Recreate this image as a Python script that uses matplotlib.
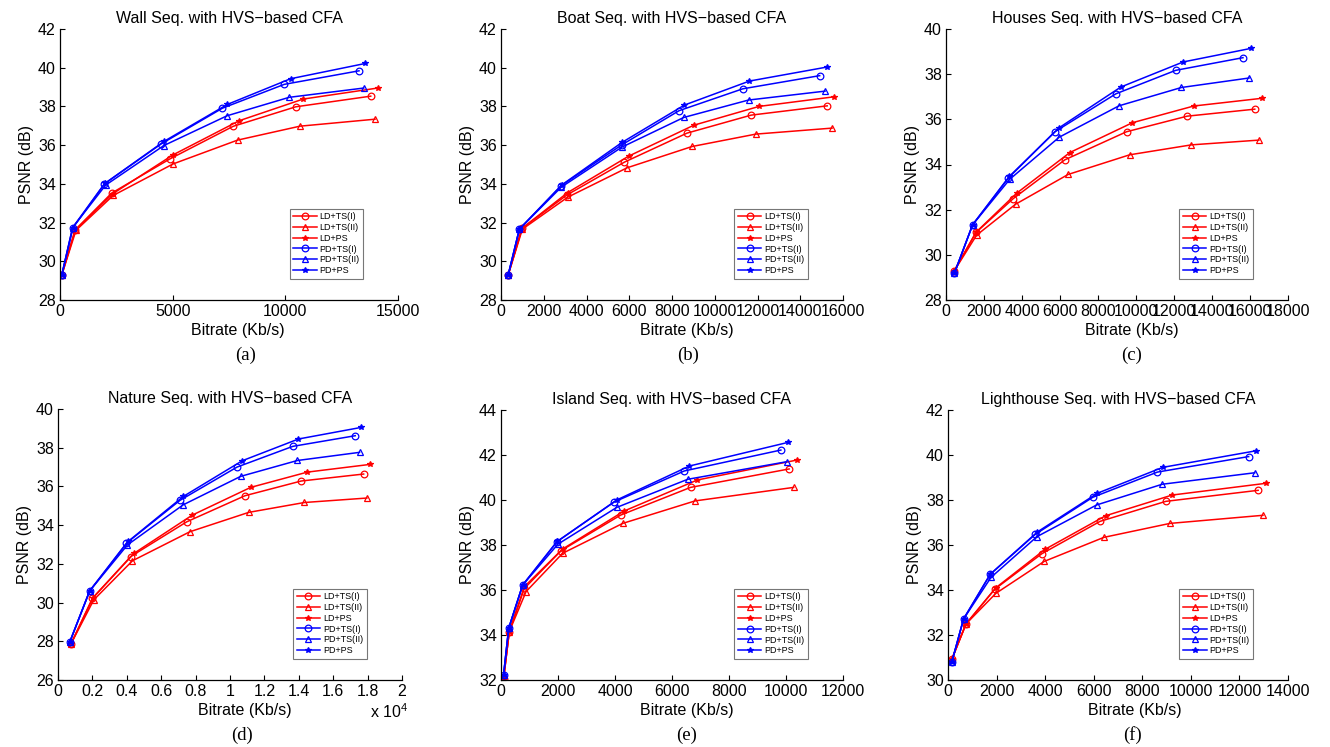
import numpy as np
import matplotlib
matplotlib.use('Agg')
import matplotlib.pyplot as plt
from matplotlib.ticker import FuncFormatter, MultipleLocator

plt.rcParams['font.family'] = ['Liberation Sans', 'DejaVu Sans']
plt.rcParams['mathtext.fontset'] = 'custom'
plt.rcParams['mathtext.rm'] = 'Liberation Sans'

# ---------------------------------------------------------------
# Series (same order in every panel)
# ---------------------------------------------------------------
series_names = ['LD+TS(I)', 'LD+TS(II)', 'LD+PS', 'PD+TS(I)', 'PD+TS(II)', 'PD+PS']

# Wall
wall_rate = [
    [80, 670, 2290, 4880, 7680, 10460, 13790],
    [80, 710, 2360, 5020, 7880, 10650, 13980],
    [80, 680, 2330, 5020, 7950, 10790, 14100],
    [80, 560, 1970, 4500, 7210, 9950, 13270],
    [80, 560, 2020, 4610, 7420, 10170, 13480],
    [80, 580, 1990, 4610, 7420, 10230, 13550],
]
wall_psnr = [
    [29.3, 31.62, 33.52, 35.29, 36.97, 37.98, 38.53],
    [29.3, 31.60, 33.40, 35.03, 36.26, 36.98, 37.34],
    [29.3, 31.62, 33.48, 35.50, 37.26, 38.38, 38.95],
    [29.3, 31.74, 34.00, 36.07, 37.91, 39.14, 39.84],
    [29.3, 31.74, 33.93, 35.98, 37.52, 38.47, 38.95],
    [29.3, 31.74, 34.02, 36.19, 38.10, 39.43, 40.22],
]

# Boat
boat_rate = [
    [340, 980, 3090, 5770, 8700, 11700, 15260],
    [340, 1000, 3120, 5900, 8940, 11920, 15490],
    [340, 980, 3120, 5970, 9020, 12070, 15600],
    [340, 860, 2820, 5660, 8330, 11310, 14910],
    [340, 860, 2820, 5660, 8550, 11580, 15160],
    [340, 860, 2850, 5660, 8580, 11620, 15230],
]
boat_psnr = [
    [29.31, 31.70, 33.43, 35.12, 36.62, 37.55, 38.03],
    [29.31, 31.66, 33.31, 34.83, 35.93, 36.57, 36.88],
    [29.31, 31.70, 33.55, 35.43, 37.03, 38.00, 38.50],
    [29.31, 31.66, 33.91, 36.02, 37.78, 38.91, 39.59],
    [29.31, 31.66, 33.83, 35.90, 37.43, 38.33, 38.79],
    [29.31, 31.66, 33.95, 36.14, 38.07, 39.31, 40.03],
]

# Houses
houses_rate = [
    [440, 1580, 3540, 6260, 9500, 12690, 16250],
    [440, 1610, 3660, 6430, 9670, 12920, 16470],
    [440, 1580, 3720, 6520, 9810, 13040, 16610],
    [440, 1400, 3280, 5730, 8940, 12090, 15630],
    [440, 1400, 3360, 5960, 9110, 12390, 15950],
    [440, 1400, 3330, 5960, 9200, 12480, 16040],
]
houses_psnr = [
    [29.30, 30.99, 32.49, 34.21, 35.45, 36.14, 36.45],
    [29.30, 30.87, 32.24, 33.56, 34.43, 34.87, 35.08],
    [29.30, 31.00, 32.73, 34.53, 35.85, 36.59, 36.93],
    [29.18, 31.33, 33.40, 35.45, 37.13, 38.17, 38.73],
    [29.18, 31.33, 33.35, 35.21, 36.60, 37.41, 37.83],
    [29.18, 31.33, 33.47, 35.63, 37.43, 38.54, 39.14],
]

# Nature
nature_rate = [
    [740, 2000, 4230, 7480, 10870, 14140, 17770],
    [740, 2080, 4330, 7670, 11090, 14330, 17960],
    [740, 2040, 4430, 7810, 11200, 14500, 18160],
    [680, 1840, 3980, 7090, 10410, 13650, 17280],
    [680, 1840, 4040, 7280, 10620, 13920, 17530],
    [680, 1840, 4080, 7280, 10720, 13980, 17630],
]
nature_psnr = [
    [27.84, 30.22, 32.38, 34.17, 35.52, 36.28, 36.64],
    [27.84, 30.14, 32.16, 33.66, 34.66, 35.17, 35.40],
    [27.84, 30.25, 32.55, 34.52, 35.95, 36.74, 37.14],
    [27.95, 30.60, 33.07, 35.28, 37.00, 38.07, 38.62],
    [27.95, 30.60, 32.98, 35.05, 36.52, 37.34, 37.76],
    [27.95, 30.60, 33.16, 35.48, 37.33, 38.45, 39.05],
]

# Island
island_rate = [
    [90, 290, 820, 2110, 4200, 6650, 10110],
    [90, 290, 880, 2160, 4270, 6810, 10270],
    [90, 290, 820, 2160, 4320, 6890, 10400],
    [90, 270, 760, 1960, 3970, 6430, 9820],
    [90, 270, 760, 2000, 4060, 6550, 10020],
    [90, 270, 760, 1980, 4060, 6610, 10070],
]
island_psnr = [
    [32.05, 34.15, 36.07, 37.75, 39.33, 40.56, 41.38],
    [32.05, 34.15, 35.93, 37.63, 38.96, 39.96, 40.56],
    [32.05, 34.15, 36.15, 37.82, 39.51, 40.89, 41.78],
    [32.22, 34.30, 36.22, 38.15, 39.91, 41.29, 42.22],
    [32.22, 34.30, 36.22, 38.04, 39.67, 40.92, 41.70],
    [32.22, 34.30, 36.22, 38.16, 40.00, 41.51, 42.56],
]

# Lighthouse
light_rate = [
    [160, 740, 1920, 3860, 6260, 8970, 12770],
    [160, 740, 1970, 3960, 6420, 9140, 12970],
    [160, 740, 1970, 4000, 6490, 9230, 13080],
    [160, 640, 1740, 3590, 5960, 8620, 12380],
    [160, 640, 1770, 3660, 6120, 8820, 12630],
    [160, 640, 1740, 3680, 6150, 8840, 12700],
]
light_psnr = [
    [30.93, 32.49, 34.03, 35.61, 37.05, 37.94, 38.43],
    [30.93, 32.49, 33.85, 35.27, 36.34, 36.96, 37.32],
    [30.93, 32.49, 34.10, 35.81, 37.30, 38.22, 38.74],
    [30.81, 32.71, 34.70, 36.47, 38.12, 39.24, 39.93],
    [30.81, 32.71, 34.56, 36.37, 37.78, 38.70, 39.21],
    [30.81, 32.71, 34.70, 36.58, 38.30, 39.45, 40.19],
]

# ---------------------------------------------------------------
# Layout (pixel boxes in a 1330x747 canvas)
# ---------------------------------------------------------------
W, H = 1330, 747
STYLES = [('r', 'o'), ('r', '^'), ('r', '*'), ('b', 'o'), ('b', '^'), ('b', '*')]

PANELS = [
    # title, rate, psnr, box (l, top, r, bottom), xmax, xstep, ylim, letter, letter_x, xlabel_x
    ('Wall', wall_rate, wall_psnr, (60, 29, 398, 300), 15000, 5000, (28, 42), '(a)', 246, 0.527),
    ('Boat', boat_rate, boat_psnr, (501, 29, 843, 300), 16000, 2000, (28, 42), '(b)', 688, 0.544),
    ('Houses', houses_rate, houses_psnr, (946, 29, 1288, 300), 18000, 2000, (28, 40), '(c)', 1132, 0.544),
    ('Nature', nature_rate, nature_psnr, (58, 409, 402, 680), 20000, 2000, (26, 40), '(d)', 242, 0.544),
    ('Island', island_rate, island_psnr, (501, 410, 843, 680), 12000, 2000, (32, 44), '(e)', 687, 0.544),
    ('Lighthouse', light_rate, light_psnr, (948, 410, 1288, 680), 14000, 2000, (30, 42), '(f)', 1133, 0.55),
]

fig = plt.figure(figsize=(W / 100, H / 100), dpi=100)

for name, rate, psnr, box, xmax, xstep, ylim, letter, letter_x, xl_x in PANELS:
    l, t, r, b = box
    ax = fig.add_axes([l / W, 1 - b / H, (r - l) / W, (b - t) / H])

    for xs, ys, lab, (c, m) in zip(rate, psnr, series_names, STYLES):
        filled = (m == '*')
        ax.plot(xs, ys, color=c, marker=m, lw=1.1,
                ms=4.2 if filled else 4.8,
                mfc=c if filled else 'none', mec=c, mew=0.9, label=lab)

    ax.set_xlim(0, xmax)
    ax.set_ylim(*ylim)
    ax.xaxis.set_major_locator(MultipleLocator(xstep))
    ax.yaxis.set_major_locator(MultipleLocator(2))
    if name == 'Nature':
        ax.xaxis.set_major_formatter(FuncFormatter(lambda v, p: '%g' % (v / 1e4)))
        fig.text(408 / W, 1 - 712 / H, r'x 10$^4$', ha='right', va='center', fontsize=11.5)
    else:
        ax.xaxis.set_major_formatter(FuncFormatter(lambda v, p: '%d' % v))

    for s in ['top', 'right']:
        ax.spines[s].set_visible(False)
    for s in ['left', 'bottom']:
        ax.spines[s].set_linewidth(0.9)
    ax.tick_params(direction='in', length=3.5, width=0.8, labelsize=11.5, pad=3)

    ax.set_title(f'{name} Seq. with HVS\u2212based CFA', fontsize=11.5, pad=4)
    ax.set_xlabel('Bitrate (Kb/s)', fontsize=11.5, labelpad=2)
    ax.xaxis.set_label_coords(xl_x, -0.085)
    ax.set_ylabel('PSNR (dB)', fontsize=11.5, labelpad=3)

    leg = ax.legend(loc='lower right', bbox_to_anchor=(0.897, 0.078), fontsize=6.5,
                    frameon=True, fancybox=False, framealpha=1, edgecolor='#777777',
                    handlelength=2.6, handletextpad=0.3, labelspacing=0.2,
                    borderpad=0.4, borderaxespad=0)
    leg.get_frame().set_linewidth(0.8)

    fig.text(letter_x / W, 1 - (b + 55) / H, letter, ha='center', va='center',
             fontsize=13.5, family='Liberation Serif')

fig.savefig('out.png', dpi=100)
